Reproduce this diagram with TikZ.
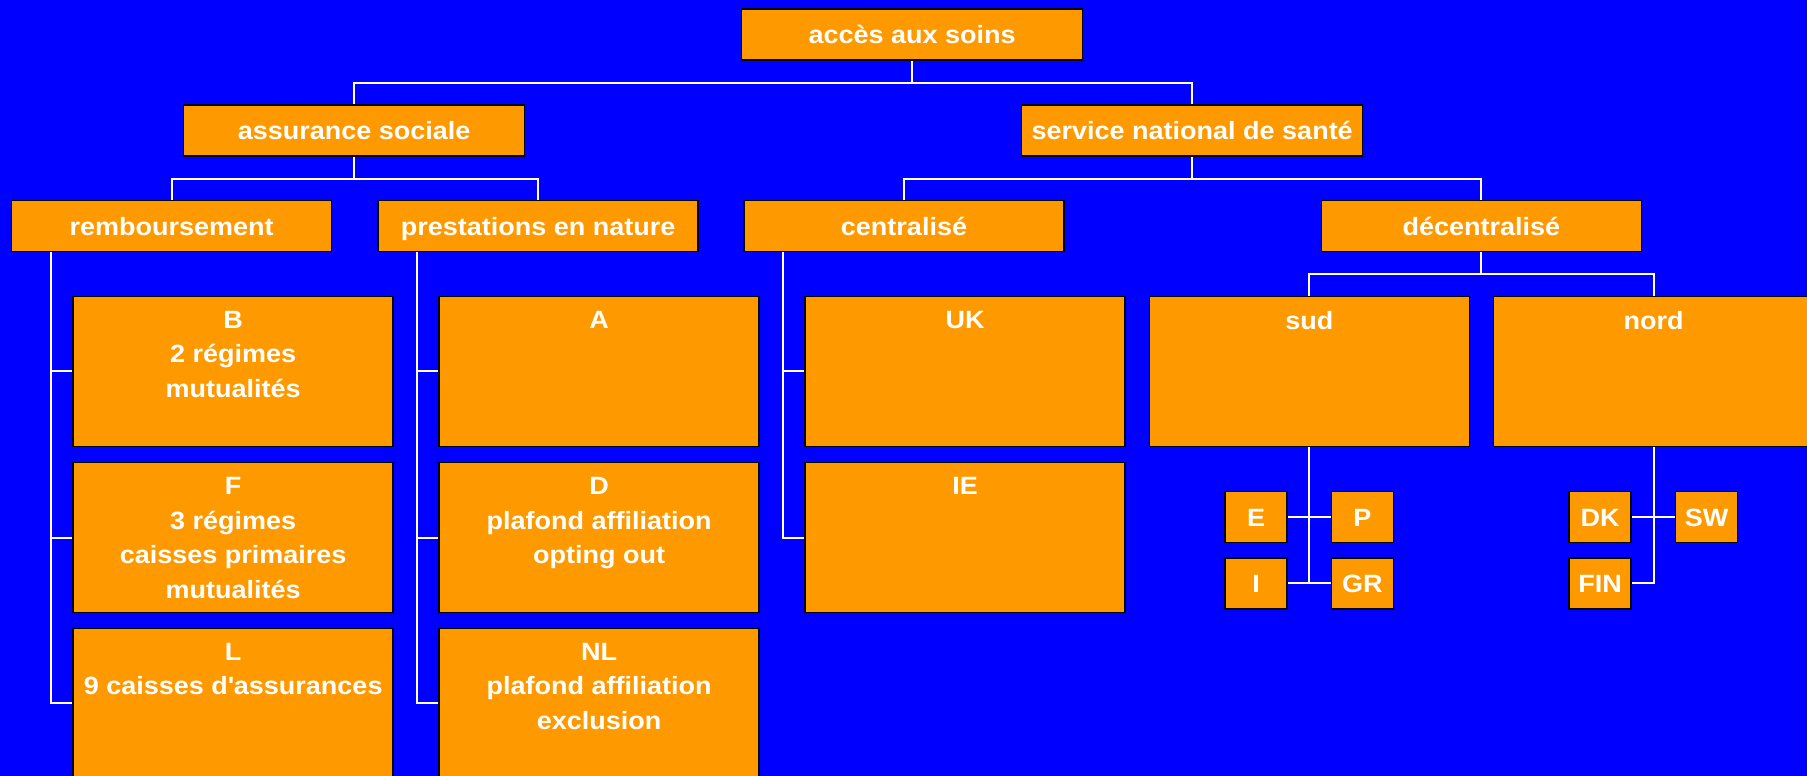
\documentclass[tikz,border=0pt]{standalone}
\usepackage{fontspec}
\setmainfont{Liberation Sans}[FakeStretch=1.08]
\usetikzlibrary{positioning}
\definecolor{fond}{RGB}{0,0,255}
\definecolor{boite}{RGB}{255,153,0}
\tikzset{
	boite/.style={draw=black, line width=1.5pt, fill=boite, text=white, inner sep=0pt,
		font=\fontsize{25}{34}\selectfont\bfseries, align=center, text height=20, text depth=2},
	niveau/.style={boite, minimum width=341, minimum height=51},
	branche/.style={boite, minimum width=320, minimum height=51},
	cellule/.style={boite, minimum width=320, minimum height=150},
	pays/.style={boite, minimum width=62, minimum height=51},
	texte/.style={text=white, inner sep=0pt, font=\fontsize{25}{34.5}\selectfont\bfseries, align=center},
	lien/.style={draw=white, line width=2pt}
}
\newcommand\apos{{\XeTeXglyph\XeTeXcharglyph"27\relax}}
\begin{document}
\begin{tikzpicture}[x=1pt, y=-1pt]
		\clip (0,0) rectangle (1807,776);
		\fill[fond] (0,0) rectangle (1807,776);
		\node[niveau] (acces) at (912.2,34.7) {accès aux soins};
		\node[niveau] (assur) at (354.2,130.3) {assurance sociale};
		\node[niveau] (snds) at (1192.2,130.3) {service national de santé};
		\node[branche] (remb) at (171.6,226.2) {remboursement};
		\node[branche] (prest) at (538.2,226.2) {prestations en nature};
		\node[branche] (centr) at (904,226.2) {centralisé};
		\node[branche] (decentr) at (1481.3,226.2) {décentralisé};
		\foreach \nom/\x/\y/\txt in {B/233.2/371.3/{B\\2 régimes\\mutualités},
				F/233.2/537.5/{F\\3 régimes\\caisses primaires\\mutualités},
				L/233.2/703.3/{L\\9 caisses d\apos assurances},
				A/599.2/371.3/{A}, D/599.2/537.5/{D\\plafond affiliation\\opting out},
				NL/599.2/703.3/{NL\\plafond affiliation\\exclusion},
				UK/965.2/371.3/{UK}, IE/965.2/537.5/{IE},
				sud/1309.3/371.3/{sud}, nord/1653.5/371.3/{nord}}
		{
			\node[cellule] (\nom) at (\x,\y) {};
			\node[texte, below=15.5pt of \nom.north] (t\nom) {\txt};
		}
		\foreach \nom/\x/\y in {E/1256.2/517.2, P/1362.4/517.2, I/1256.2/583.4, GR/1362.4/583.4,
				DK/1600.2/517.2, SW/1706.6/517.2, FIN/1600.2/583.4}
			\node[pays] (\nom) at (\x,\y) {\nom};
		\draw[lien] (acces.south) -- ++(0,22.5) -| (assur.north);
		\draw[lien] (acces.south) ++(0,22.5) -| (snds.north);
		\draw[lien] (assur.south) -- ++(0,22.5) -| (remb.north);
		\draw[lien] (assur.south) ++(0,22.5) -| (prest.north);
		\draw[lien] (snds.south) -- ++(0,22.5) -| (centr.north);
		\draw[lien] (snds.south) ++(0,22.5) -| (decentr.north);
		\draw[lien] (decentr.south) -- ++(0,22) -| (sud.north);
		\draw[lien] (decentr.south) ++(0,22) -| (nord.north);
		\draw[lien] ([xshift=-120.6]remb.south) |- (L.west);
		\draw[lien] (B.west) -- ++(-22.5,0);
		\draw[lien] (F.west) -- ++(-22.5,0);
		\draw[lien] ([xshift=-121.4]prest.south) |- (NL.west);
		\draw[lien] (A.west) -- ++(-22.5,0);
		\draw[lien] (D.west) -- ++(-22.5,0);
		\draw[lien] ([xshift=-121]centr.south) |- (IE.west);
		\draw[lien] (UK.west) -- ++(-22.5,0);
		\draw[lien] (sud.south) -- (sud.south |- I.east);
		\draw[lien] (E.east) -- (P.west);
		\draw[lien] (I.east) -- (GR.west);
		\draw[lien] (nord.south) |- (FIN.east);
		\draw[lien] (DK.east) -- (SW.west);
	\end{tikzpicture}
\end{document}
